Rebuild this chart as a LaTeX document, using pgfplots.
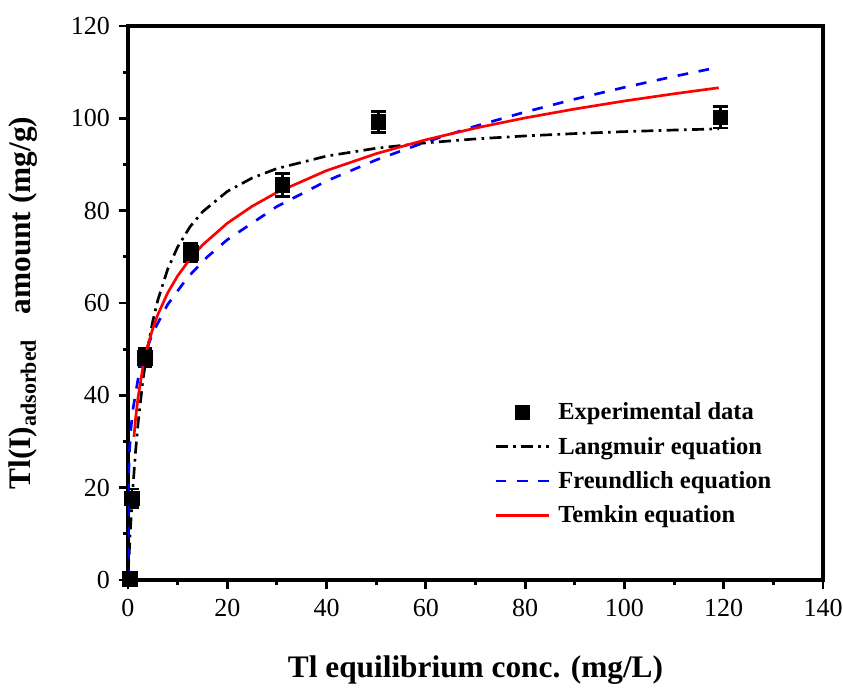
\documentclass[border=0pt]{standalone}
\usepackage{pgfplots}
\pgfplotsset{compat=1.18}
\usepackage{fontspec}
\setmainfont{Liberation Serif}
\begin{document}
\begin{tikzpicture}
\begin{axis}[
  scale only axis,
  width=521.25pt, height=415.5pt,
  xmin=0, xmax=140, ymin=0, ymax=120,
  xtick={0,20,...,140}, ytick={0,20,...,120},
  minor x tick num=1, minor y tick num=1,
  xtick pos=bottom, ytick pos=left,
  tick align=outside,
  major tick length=7pt, minor tick length=4pt,
  every tick/.style={line width=2.2pt, black},
  axis line style={line width=3pt},
  /pgf/number format/assume math mode=true,
  tick label style={font=\fontsize{19.5}{22}\selectfont},
  xticklabel style={yshift=-4pt},
  yticklabel style={xshift=-3pt},
  xlabel={\bfseries Tl equilibrium conc. (mg/L)},
  ylabel={\bfseries Tl(I)\textsubscript{adsorbed}\hspace{0.8em}amount (mg/g)},
  label style={font=\fontsize{23.5}{26}\selectfont\bfseries},
  xlabel style={yshift=-22pt},
  ylabel style={yshift=18pt},
  legend cell align=left,
  legend image code/.code={\draw[mark repeat=2,mark phase=2,#1] plot coordinates {(0pt,0pt) (20pt,0pt) (40pt,0pt)};},
  legend style={draw=none, fill=none, at={(rel axis cs:0.521,0.33)}, anchor=north west,
    font=\fontsize{18.4}{22}\selectfont\bfseries, row sep=7.5pt,
    /tikz/every odd column/.append style={column sep=4pt}},
]
\addplot[only marks, mark=square*, mark size=5.5pt, black,
  error bars/.cd, y dir=both, y explicit,
  error bar style={line width=2pt, black},
  error mark options={rotate=90, mark size=5.5pt, line width=2pt}]
  coordinates {
  (0.3,0.3) +- (0,0.5)
  (0.8,17.7) +- (0,2.0)
  (3.4,48.2) +- (0,2.0)
  (12.6,70.9) +- (0,2.0)
  (31.1,85.6) +- (0,2.5)
  (50.4,99.2) +- (0,2.3)
  (119.3,100.2) +- (0,2.3)
  };
\addlegendentry{Experimental data}
\addplot[black, line width=2pt, dash pattern=on 9pt off 4pt on 2pt off 4pt]
  coordinates {
  (0,0) (0.2,4.81) (0.5,11.22) (1,20.2) (1.5,27.55) (2,33.67) (3,43.29) (4,50.5)
  (5,56.11) (6,60.6) (8,67.33) (10,72.14) (12.5,76.52) (15,79.74) (20,84.17)
  (25,87.07) (30,89.12) (40,91.82) (50,93.52) (60,94.69) (70,95.54) (80,96.19)
  (90,96.70) (100,97.12) (110,97.46) (119,97.72)
  };
\addlegendentry{Langmuir equation}
\addplot[blue, line width=2pt, dash pattern=on 8pt off 8pt]
  coordinates {
  (0,0) (0.002,8.86) (0.02,15.04) (0.1,21.79) (0.3,28.05) (0.6,32.90) (1,37)
  (2,43.39) (3,47.64) (5,53.58) (8,59.69) (12,65.53) (16,70.01) (20,73.70)
  (30,80.90) (40,86.43) (50,90.99) (60,94.88) (70,98.31) (80,101.37)
  (90,104.16) (100,106.71) (110,109.08) (118,110.86)
  };
\addlegendentry{Freundlich equation}
\addplot[red, line width=2pt]
  coordinates {
  (1.2,31) (1.5,34.67) (2,39.40) (3,46.07) (4,50.81) (5,54.48) (6,57.47)
  (8,62.21) (10,65.88) (12.5,69.55) (15,72.55) (20,77.28) (25,80.95)
  (30,83.95) (40,88.68) (50,92.35) (60,95.35) (70,97.89) (80,100.09)
  (90,102.02) (100,103.76) (110,105.32) (119,106.62)
  };
\addlegendentry{Temkin equation}
\end{axis}
\pgfresetboundingbox
\useasboundingbox (-96pt,-84.75pt) rectangle (536.25pt,435pt);
\end{tikzpicture}
\end{document}
